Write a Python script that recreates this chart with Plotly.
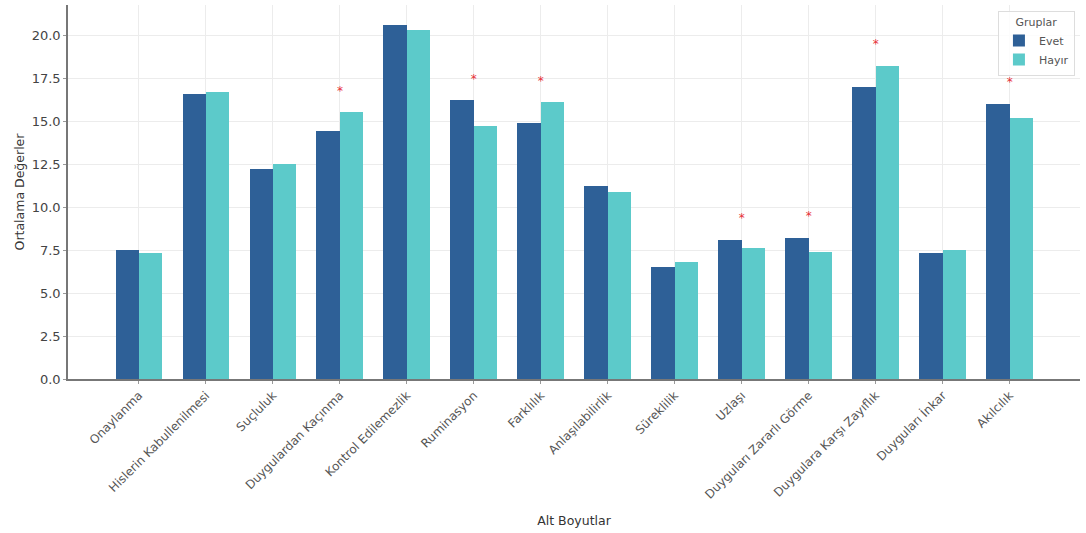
import plotly.graph_objects as go

categories = [
    "Onaylanma", "Hislerin Kabullenilmesi", "Suçluluk", "Duygulardan Kaçınma",
    "Kontrol Edilemezlik", "Ruminasyon", "Farklılık", "Anlaşılabilirlik",
    "Süreklilik", "Uzlaşı", "Duyguları Zararlı Görme", "Duygulara Karşı Zayıflık",
    "Duyguları İnkar", "Akılcılık",
]
evet = [7.5, 16.6, 12.2, 14.4, 20.6, 16.2, 14.9, 11.2, 6.5, 8.1, 8.2, 17.0, 7.3, 16.0]
hayir = [7.3, 16.7, 12.5, 15.5, 20.3, 14.7, 16.1, 10.9, 6.8, 7.6, 7.4, 18.2, 7.5, 15.2]
significant = [False, False, False, True, False, True, True, False, False, True, True, True, False, True]

idx = list(range(len(categories)))
bar_w = 0.35

fig = go.Figure()
fig.add_trace(go.Bar(
    x=[i - bar_w / 2 for i in idx], y=evet, width=bar_w, name="Evet",
    marker=dict(color="#2e6097", line=dict(width=0)),
))
fig.add_trace(go.Bar(
    x=[i + bar_w / 2 for i in idx], y=hayir, width=bar_w, name="Hayır",
    marker=dict(color="#5ccaca", line=dict(width=0)),
))

# significance stars above each significant pair
star_x = [i for i in idx if significant[i]]
star_y = [max(evet[i], hayir[i]) + 1.2 for i in idx if significant[i]]
fig.add_trace(go.Scatter(
    x=star_x, y=star_y, mode="text", text=["*"] * len(star_x),
    textposition="middle center",
    textfont=dict(color="#e8303a", size=12, family="DejaVu Sans"),
    showlegend=False, hoverinfo="skip",
))

fig.update_layout(
    width=1086, height=533,
    margin=dict(l=68, r=6, t=5, b=154),
    paper_bgcolor="white", plot_bgcolor="white",
    barmode="overlay", bargap=0,
    font=dict(family="DejaVu Sans", size=11, color="#333333"),
    legend=dict(
        title=dict(text="Gruplar", side="top center", font=dict(size=11, color="#555555")),
        x=0.995, y=0.985, xanchor="right", yanchor="top",
        bgcolor="rgba(255,255,255,0.85)", bordercolor="#dddddd", borderwidth=1,
        font=dict(size=11, color="#555555"),
    ),
    xaxis=dict(
        title=dict(text="Alt Boyutlar", font=dict(size=12.5, color="#333333"), standoff=16),
        tickmode="array", tickvals=idx, ticktext=categories, tickangle=-45,
        range=[-1.06, 14.05], showgrid=True, gridcolor="#ececec", gridwidth=1,
        showline=True, linecolor="#777777", linewidth=1.5,
        ticks="outside", ticklen=3, tickcolor="#999999",
        tickfont=dict(size=12, color="#555555"), zeroline=False,
    ),
    yaxis=dict(
        title=dict(text="Ortalama Değerler", font=dict(size=12.5, color="#333333"), standoff=4),
        range=[0, 21.75], tickmode="array", tickvals=[0, 2.5, 5, 7.5, 10, 12.5, 15, 17.5, 20],
        ticktext=["0.0", "2.5", "5.0", "7.5", "10.0", "12.5", "15.0", "17.5", "20.0"],
        showgrid=True, gridcolor="#ececec", gridwidth=1,
        showline=True, linecolor="#777777", linewidth=1.5,
        ticks="outside", ticklen=3, tickcolor="#999999",
        tickfont=dict(size=13, color="#444444"), zeroline=False,
    ),
)

fig.write_html("out.html")
